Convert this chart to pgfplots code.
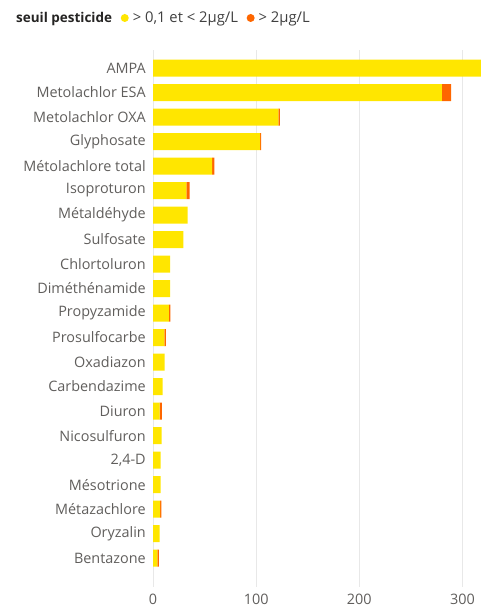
\documentclass[border=0pt]{standalone}
\usepackage{fontspec}
\setmainfont{Open Sans}
\usepackage{pgfplots}
\pgfplotsset{compat=1.18}
\definecolor{cy}{RGB}{255,230,0}
\definecolor{co}{RGB}{254,102,0}
\definecolor{lab}{RGB}{96,94,92}
\definecolor{ttl}{RGB}{37,36,35}
\definecolor{leg}{RGB}{64,64,64}
\begin{document}
\begin{tikzpicture}
\path[use as bounding box] (0pt,0pt) rectangle (360.75pt,454.5pt);
\begin{axis}[at={(114.75pt,14.25pt)}, anchor=south west, scale only axis,
  width=246pt, height=402.75pt,
  xbar stacked, bar width=12.75pt, y dir=reverse,
  xmin=0, xmax=318, ymin=-0.735, ymax=21.18,
  ytick={0,...,20},
  yticklabels={AMPA,Metolachlor ESA,Metolachlor OXA,Glyphosate,Métolachlore total,Isoproturon,Métaldéhyde,Sulfosate,Chlortoluron,Diméthénamide,Propyzamide,Prosulfocarbe,Oxadiazon,Carbendazime,Diuron,Nicosulfuron,{2,4-D},Mésotrione,Métazachlore,Oryzalin,Bentazone},
  xtick={0,100,200,300},
  /pgf/number format/assume math mode=true,
  axis line style={draw=none}, major tick length=0pt,
  xmajorgrids, grid style={draw=black!9, line width=0.75pt},
  tick label style={font=\fontsize{10.8}{12}\selectfont, text=lab},
  yticklabel style={inner sep=0pt, xshift=-5.25pt},
  xticklabel style={inner sep=0pt, yshift=-5pt},
  legend columns=-1,
  legend style={at={(axis description cs:-0.43,1.0596)}, anchor=west, draw=none, fill=none,
    font=\fontsize{11.1}{12}\selectfont, text=leg, inner sep=0pt,
    /tikz/every even column/.append style={column sep=4.5pt},
    /tikz/every odd column/.append style={column sep=1pt}},
  legend cell align=left,
]
\addlegendimage{empty legend}
\addlegendentry{\fontsize{10.1}{12}\selectfont\textcolor{ttl}{\textbf{seuil pesticide}}}
\addplot[fill=cy, draw=none, legend image code/.code={\fill[cy] (3pt,0pt) circle (3pt);}] coordinates {
(325,0) (280,1) (121.6,2) (103.8,3) (57.2,4) (32.3,5) (33.6,6) (29.4,7) (16.5,8) (16.5,9) (15.5,10) (11,11) (11.3,12) (9.4,13) (6.5,14) (8.4,15) (7.4,16) (7.4,17) (6.8,18) (6.5,19) (4.2,20)};
\addlegendentry{> 0,1 et < 2µg/L}
\addplot[fill=co, draw=none, legend image code/.code={\fill[co] (3pt,0pt) circle (3pt);}] coordinates {
(0,0) (9,1) (1.3,2) (1,3) (2.3,4) (3.3,5) (0,6) (0,7) (0,8) (0,9) (1.3,10) (1.6,11) (0,12) (0,13) (2.2,14) (0,15) (0,16) (0,17) (1.2,18) (0,19) (1.6,20)};
\addlegendentry{> 2µg/L}
\end{axis}
\end{tikzpicture}
\end{document}
